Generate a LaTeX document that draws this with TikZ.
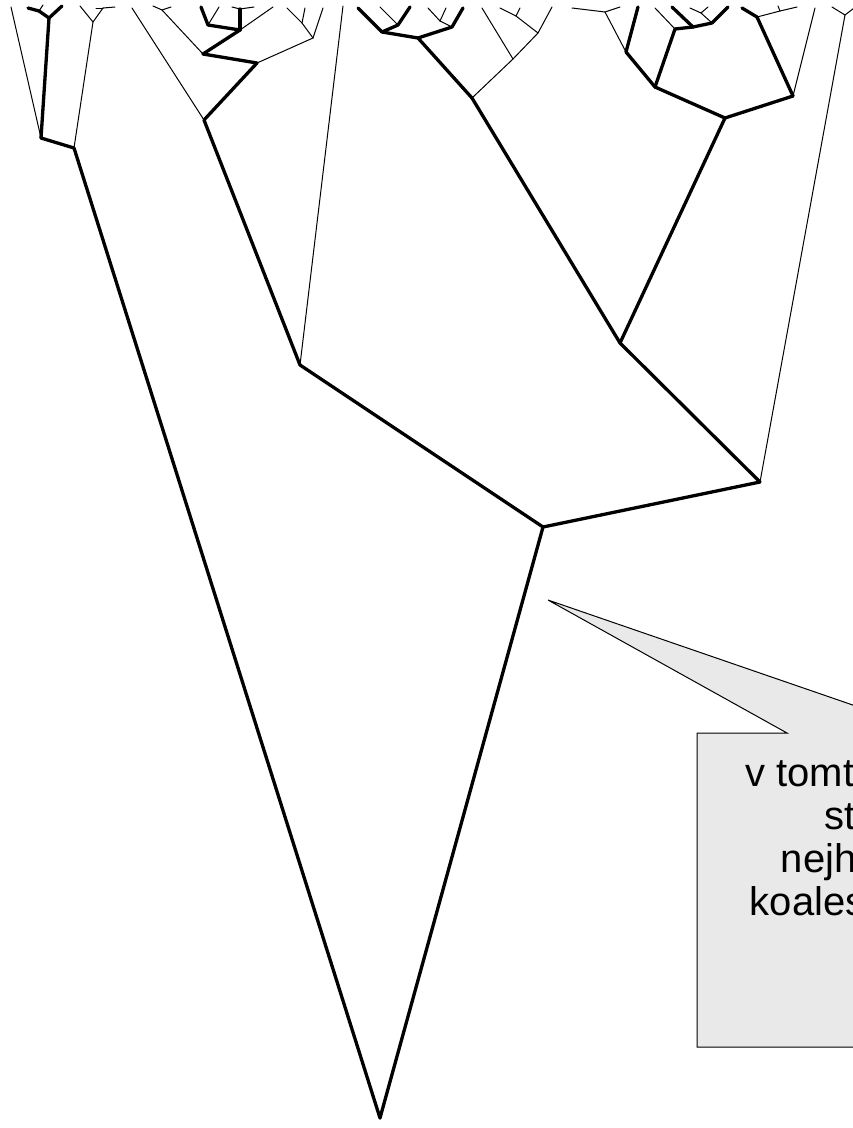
\documentclass[tikz,border=0pt]{standalone}
\usepackage{fontspec}
\setmainfont{Liberation Sans}
\usetikzlibrary{positioning}

\begin{document}
\begin{tikzpicture}[x=1pt, y=-1pt,
    branch/.style={line width=3.3pt, line cap=round, line join=round},
    twig/.style={line width=1pt, line cap=round},
    callout/.style={draw=black, fill=gray!17, line width=1pt, line join=miter},
    note/.style={align=center, font=\fontsize{40}{43}\selectfont}]

    \useasboundingbox (0,0) rectangle (853,1128);
    \clip (0,0) rectangle (853,1128);

    % Nodes
    \coordinate (root) at (380,1118);
    \coordinate (lA) at (74,148);  \coordinate (lB) at (41,138);
    \coordinate (lC) at (49,18);   \coordinate (lD) at (39,11);
    \coordinate (lE) at (93,22);   \coordinate (lF) at (103,8);
    \coordinate (mrca) at (543,527);
    \coordinate (cA) at (300,365); \coordinate (cC) at (204,120);
    \coordinate (cS) at (257,63);  \coordinate (cQ) at (203,54);
    \coordinate (cQ1) at (240,30); \coordinate (cQ2) at (208,25);
    \coordinate (cQ3) at (240,9);  \coordinate (cQt) at (162,10);
    \coordinate (cP) at (313,38);  \coordinate (cPa) at (302,23);
    \coordinate (cB) at (760,482); \coordinate (cBt) at (845,15);
    \coordinate (cD) at (620,343); \coordinate (cF) at (472,98);
    \coordinate (cE) at (418,38);  \coordinate (cE1) at (382,32);
    \coordinate (cE1a) at (398,25);\coordinate (cE2) at (452,27);
    \coordinate (cEb) at (440,21); \coordinate (cG) at (513,59);
    \coordinate (cH) at (538,33);  \coordinate (cHa) at (516,16);
    \coordinate (cI) at (725,118); \coordinate (cJ) at (655,87);
    \coordinate (cJ1) at (626,52); \coordinate (cJt) at (605,12);
    \coordinate (cJ2) at (675,29); \coordinate (cJ3) at (693,27);
    \coordinate (cJ4) at (712,23); \coordinate (cJ5) at (701,13);
    \coordinate (cK) at (793,96);  \coordinate (cK1) at (757,17);
    \coordinate (cKa) at (780,11);
    % tips
    \coordinate (t1) at (11,7);   \coordinate (t2) at (28,8);
    \coordinate (t3) at (43,5);   \coordinate (t4) at (62,6);
    \coordinate (t5) at (80,6);   \coordinate (t6) at (96,8);
    \coordinate (t7) at (115,7);  \coordinate (t8) at (343,6);
    \coordinate (t9) at (132,8);  \coordinate (t10) at (153,6);
    \coordinate (t11) at (171,7); \coordinate (t12) at (323,8);
    \coordinate (t13) at (287,8); \coordinate (t14) at (305,8);
    \coordinate (t15) at (201,7); \coordinate (t16) at (219,7);
    \coordinate (t17) at (232,7); \coordinate (t18) at (254,7);
    \coordinate (t19) at (273,7); \coordinate (t20) at (832,7);
    \coordinate (t21) at (858,5); \coordinate (t22) at (358,8);
    \coordinate (t23) at (410,7); \coordinate (t24) at (380,7);
    \coordinate (t25) at (463,8); \coordinate (t26) at (428,8);
    \coordinate (t27) at (446,8); \coordinate (t28) at (482,8);
    \coordinate (t29) at (552,7); \coordinate (t30) at (500,8);
    \coordinate (t31) at (520,8); \coordinate (t32) at (572,8);
    \coordinate (t33) at (620,7); \coordinate (t34) at (638,7);
    \coordinate (t35) at (655,8); \coordinate (t36) at (672,7);
    \coordinate (t37) at (728,7); \coordinate (t38) at (690,8);
    \coordinate (t39) at (708,7); \coordinate (t40) at (815,8);
    \coordinate (t41) at (742,8); \coordinate (t42) at (797,7);
    \coordinate (t43) at (778,6);

    % Thin branches
    \foreach \a/\b in {lB/t1, lD/t3, lA/lE, lE/t5, lE/lF, lF/t6, lF/t7,
        cA/t8, cC/t9, cQ/cQt, cQt/t10, cQt/t11, cS/cP, cP/t12, cP/cPa,
        cPa/t13, cPa/t14, cQ2/t16, cQ3/t17, cQ3/t18, cQ1/t19,
        cB/cBt, cBt/t20, cBt/t21, cE1a/t24, cE2/cEb, cEb/t26, cEb/t27,
        cF/cG, cG/t28, cG/cH, cH/t29, cH/cHa, cHa/t30, cHa/t31,
        cJ1/cJt, cJt/t32, cJt/t33, cJ2/t35, cJ4/cJ5, cJ5/t38, cJ5/t39,
        cK/t40, cK1/cKa, cKa/t42, cKa/t43}
        \draw[twig] (\a) -- (\b);

    % Thick branches
    \foreach \a/\b in {root/lA, lA/lB, lB/lC, lC/lD, lC/t4, lD/t2,
        root/mrca, mrca/cA, cA/cC, cC/cS, cS/cQ, cQ/cQ1, cQ1/cQ2,
        cQ2/t15, cQ1/cQ3,
        mrca/cB, cB/cD, cD/cF, cF/cE, cE/cE1, cE1/t22, cE1/cE1a,
        cE1a/t23, cE/cE2, cE2/t25, cD/cI, cI/cJ, cJ/cJ1, cJ1/t34,
        cJ/cJ2, cJ2/cJ3, cJ3/t36, cJ3/cJ4, cJ4/t37, cI/cK, cK/cK1,
        cK1/t41}
        \draw[branch] (\a) -- (\b);

    % Callout
    \coordinate (tip) at (548,600);
    \path[callout] (tip) -- (787,733) -- (697,733) -- (697,1047)
        -- (1025,1047) -- (1025,733) -- (934,733) -- cycle;
    \node[note] (label) at (861,837) {v tomto bodě\\stojí\\nejhlubší\\koalescence};

\end{tikzpicture}
\end{document}
